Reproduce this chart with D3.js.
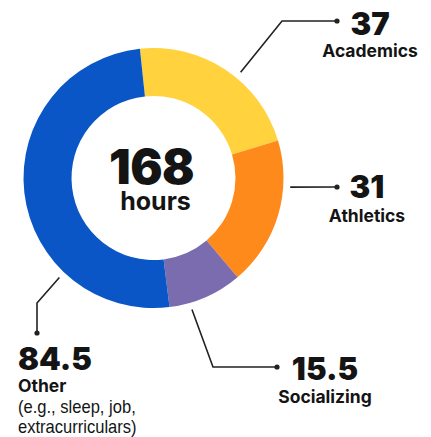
<!DOCTYPE html>
<html><head><meta charset="utf-8">
<script src="https://cdn.jsdelivr.net/npm/d3@7"></script>
<style>
html,body{margin:0;padding:0;background:#fff;}
svg{display:block;}
</style></head>
<body>
<svg id="chart" width="431" height="437"></svg>
<script>
// ---- data ----
const categories = ["Academics", "Athletics", "Socializing", "Other"];
const hours = [37, 31, 15.5, 84.5];
const valueLabels = ["37", "31", "15.5", "84.5"];
const subLabels = [[], [], [], ["(e.g., sleep, job,", "extracurriculars)"]];
const totalLabel = "168";
const unitLabel = "hours";
const colors = ["#ffd23e", "#fd8a1a", "#7a6cae", "#0a56c6"];

// ---- layout ----
const W = 431, H = 437;
const cx = 153.5, cy = 178, R = 130, r = 82;
const startDeg = -6;
const leaders = [
  {ang: 39.5, elbow: [282, 21], dot: [337, 21], tx: 370, ty: 35, anchor: "middle", sy: 57},
  {ang: 93.8, elbow: null, dot: [337, 187], tx: 367, ty: 198, anchor: "middle", sy: 222},
  {ang: 163.7, elbow: [213, 367], dot: [277, 367], tx: 325, ty: 380, anchor: "middle", sy: 403},
  {ang: 223.4, elbow: [37, 303], dot: [37, 333], tx: 18, ty: 370, anchor: "start", sy: 392}
];
const leaderR = 137;
const narrow = 0.92;

const svg = d3.select("#chart");
const g = svg.append("g").attr("transform", `translate(${cx},${cy})`);

const toRad = d => d * Math.PI / 180;
const pie = d3.pie().sort(null).value(d => d)
  .startAngle(toRad(startDeg)).endAngle(toRad(startDeg) + 2 * Math.PI);
const arc = d3.arc().innerRadius(r).outerRadius(R);
const color = d3.scaleOrdinal().domain(categories).range(colors);

const arcs = pie(hours);
g.selectAll("path.slice").data(arcs).join("path")
  .attr("class", "slice")
  .attr("d", arc)
  .attr("fill", (d, i) => color(categories[i]));

// center text
g.append("text").attr("x", -2).attr("y", 6)
  .attr("text-anchor", "middle")
  .style("font-family", "Inter, 'Liberation Sans', sans-serif")
  .style("font-weight", 900).style("font-size", "48px").style("fill", "#141414")
  .style("letter-spacing", "-0.5px")
  .text(totalLabel);
g.append("text").attr("x", 2).attr("y", 32)
  .attr("text-anchor", "middle")
  .style("font-family", "Inter, 'Liberation Sans', sans-serif")
  .style("font-weight", 700).style("font-size", "25px").style("fill", "#141414")
  .text(unitLabel);

// leaders
const lead = svg.append("g");
leaders.forEach((L, i) => {
  const a = toRad(L.ang);
  const p0 = [cx + leaderR * Math.sin(a), cy - leaderR * Math.cos(a)];
  const pts = [p0];
  if (L.elbow) pts.push(L.elbow);
  pts.push(L.dot);
  lead.append("path")
    .attr("d", d3.line()(pts))
    .attr("fill", "none").attr("stroke", "#222").attr("stroke-width", 1.6);
  lead.append("circle").attr("cx", L.dot[0]).attr("cy", L.dot[1]).attr("r", 2.6).attr("fill", "#222");

  lead.append("text").attr("x", L.tx).attr("y", L.ty)
    .attr("text-anchor", L.anchor)
    .style("font-family", "Inter, 'Liberation Sans', sans-serif")
    .style("font-weight", 900).style("font-size", "31px").style("fill", "#141414")
    .text(valueLabels[i]);
  lead.append("text").attr("x", L.tx).attr("y", L.sy)
    .attr("text-anchor", L.anchor)
    .style("font-family", "Inter, 'Liberation Sans', sans-serif")
    .style("font-weight", 700).style("font-size", "17.5px").style("fill", "#141414")
    .text(categories[i]);
  subLabels[i].forEach((s, k) => {
    lead.append("text")
      .attr("transform", `translate(${L.tx},${L.sy + 21 + k * 20}) scale(${narrow},1)`)
      .attr("text-anchor", L.anchor)
      .style("font-family", "'Liberation Sans', sans-serif")
      .style("font-weight", 400).style("font-size", "18px").style("fill", "#141414")
      .text(s);
  });
});
</script>
</body></html>
